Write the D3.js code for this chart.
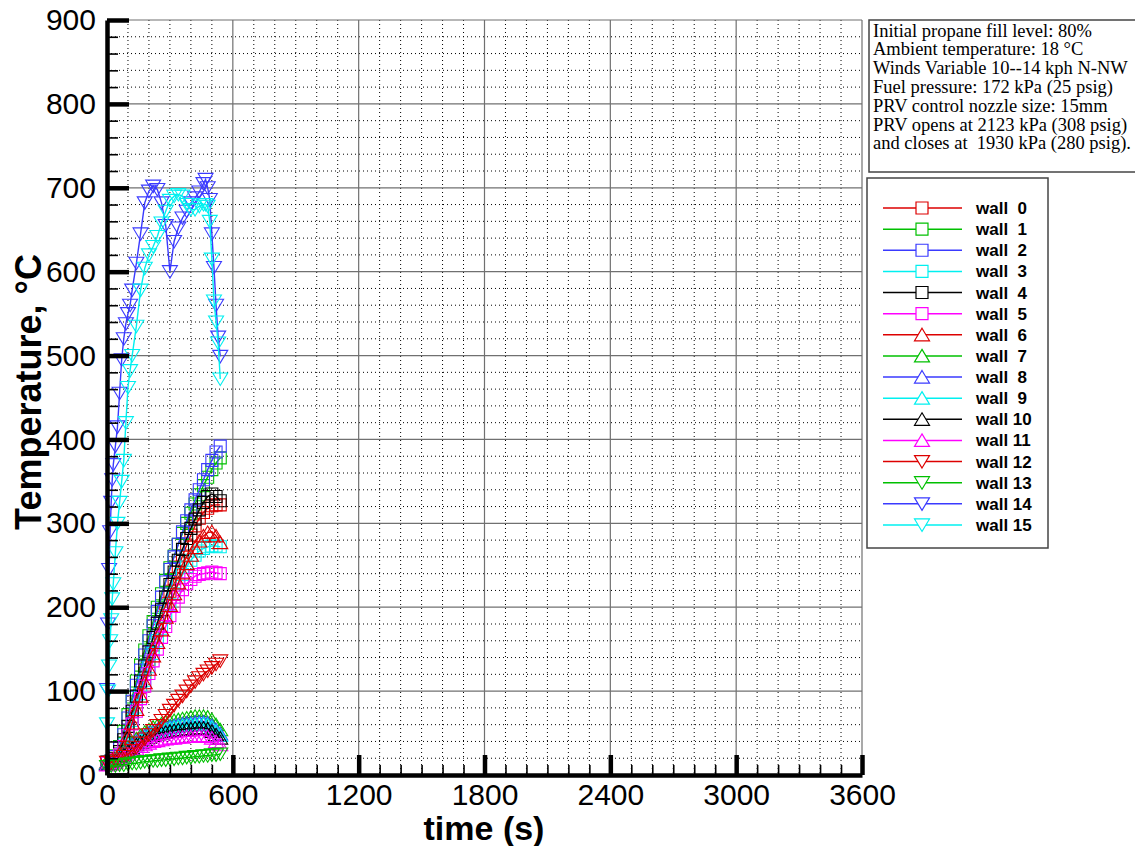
<!DOCTYPE html>
<html><head><meta charset="utf-8">
<script src="https://cdn.jsdelivr.net/npm/d3@7"></script>
<style>body{margin:0;background:#fff}</style>
</head><body><svg id="c" width="1135" height="846"></svg>
<script>
// ---------- data ----------
const time = [0,20,40,60,80,100,120,140,160,180,200,220,240,260,280,300,320,340,360,380,400,420,440,460,480,500,520,540];
const wall0  = [15,16,19,26,38,53,70,87,104,121,138,155,172,188,204,219,234,248,261,274,286,297,306,313,318,321,322,322];
const wall1  = [15,17,23,34,52,72,93,112,131,149,166,183,200,216,232,247,261,275,288,300,312,323,334,345,355,364,372,378];
const wall2  = [15,17,22,32,48,68,88,107,125,143,160,178,195,212,230,245,260,275,290,303,316,328,340,352,364,375,385,392];
const wall3  = [15,16,19,25,36,50,65,81,97,113,129,145,160,175,189,203,216,228,239,248,256,262,267,270,272,273,273,272];
const wall4  = [15,16,20,28,42,58,76,94,112,130,147,164,181,197,212,227,242,256,269,282,294,305,316,325,332,335,332,327];
const wall5  = [14,15,18,24,34,47,61,76,91,106,121,136,150,164,177,190,201,212,221,228,233,237,239,240,241,242,241,240];
const wall6  = [15,16,18,24,34,47,62,78,94,110,126,142,158,173,188,202,216,229,241,252,262,271,279,285,289,290,285,277];
const wall7  = [14,16,19,23,28,33,38,43,47,51,54,57,59,61,63,64,65,66,67,68,69,70,70,70,69,66,60,54];
const wall8  = [14,15,18,22,26,31,36,40,44,47,50,52,54,56,57,58,59,60,61,62,62,63,63,63,62,59,54,49];
const wall9  = [14,15,18,21,25,29,34,38,42,45,48,50,52,54,55,56,57,58,59,59,60,60,61,61,60,57,52,47];
const wall10 = [13,14,17,20,24,28,32,36,39,42,45,47,49,50,51,52,53,54,54,55,55,56,56,56,55,52,48,44];
const wall11 = [12,13,15,18,21,25,28,31,34,36,38,40,41,42,43,44,44,45,45,46,46,46,47,47,46,44,40,36];
const wall12 = [15,15,17,19,22,25,29,33,38,43,48,53,59,65,71,77,83,89,94,100,106,111,116,120,124,128,132,136];
const wall13 = [10,11,11,12,12,13,14,14,15,16,16,17,17,18,18,19,19,20,20,21,21,22,22,23,23,24,24,25];
const timeFast = [0,5,10,15,20,25,30,40,50,60,70,80,90,100,110,120,140,160,180,200,220,240,260,280,300,320,340,360,380,400,420,440,460,470,480,490,500,510,520,530,540];
const wall14 = [102,180,245,290,325,352,370,392,415,455,495,520,538,550,560,578,610,645,682,696,702,698,682,655,600,636,652,664,672,682,688,695,705,710,700,686,645,605,560,522,499];
const wall15 = [61,100,130,160,185,210,228,265,300,325,350,375,420,462,482,500,535,578,604,620,630,642,658,672,685,690,692,690,680,674,674,678,680,680,678,660,615,565,540,515,472];

const seriesNames  = ["wall  0","wall  1","wall  2","wall  3","wall  4","wall  5","wall  6","wall  7","wall  8","wall  9","wall 10","wall 11","wall 12","wall 13","wall 14","wall 15"];
const seriesValues = [wall0,wall1,wall2,wall3,wall4,wall5,wall6,wall7,wall8,wall9,wall10,wall11,wall12,wall13,wall14,wall15];
const seriesTimes  = [time,time,time,time,time,time,time,time,time,time,time,time,time,time,timeFast,timeFast];
const seriesColors = ["#dd0000","#00c000","#3a3aff","#00f0f0","#000000","#ff00ff","#dd0000","#00c000","#3a3aff","#00f0f0","#000000","#ff00ff","#dd0000","#00c000","#3a3aff","#00f0f0"];
const seriesShapes = ["square","square","square","square","square","square","up","up","up","up","up","up","down","down","down","down"];

const xTicks = [0,600,1200,1800,2400,3000,3600];
const yTicks = [0,100,200,300,400,500,600,700,800,900];
const xMinorTicks = [100,200,300,400,500,700,800,900,1000,1100,1300,1400,1500,1600,1700,1900,2000,2100,2200,2300,2500,2600,2700,2800,2900,3100,3200,3300,3400,3500];
const yMinorTicks = [20,40,60,80,120,140,160,180,220,240,260,280,320,340,360,380,420,440,460,480,520,540,560,580,620,640,660,680,720,740,760,780,820,840,860,880];
const xTitle = "time (s)";
const yTitle = "Temperature, °C";
const infoLines = ["Initial propane fill level: 80%","Ambient temperature: 18 °C","Winds Variable 10--14 kph N-NW","Fuel pressure: 172 kPa (25 psig)","PRV control nozzle size: 15mm","PRV opens at 2123 kPa (308 psig)","and closes at  1930 kPa (280 psig)."];

// ---------- drawing ----------
const svg = d3.select("#c");
const L = 107, R = 862, T = 20, B = 775;
const x = d3.scaleLinear().domain([0,3600]).range([L,R]);
const y = d3.scaleLinear().domain([0,900]).range([B,T]);
const shapePath = {
  square: "M-6,-6h12v12h-12Z",
  up: "M0,-6.5L7.5,6L-7.5,6Z",
  down: "M0,6.5L7.5,-6L-7.5,-6Z"
};

// minor dotted grid
const g = svg.append("g");
g.selectAll(".mvx").data(xMinorTicks).join("line")
  .attr("x1",d=>x(d)).attr("x2",d=>x(d)).attr("y1",T).attr("y2",B)
  .attr("stroke","#000").attr("stroke-width",1).attr("stroke-dasharray","1,3");
g.selectAll(".mhy").data(yMinorTicks).join("line")
  .attr("y1",d=>y(d)).attr("y2",d=>y(d)).attr("x1",L).attr("x2",R)
  .attr("stroke","#000").attr("stroke-width",1).attr("stroke-dasharray","1,3");
// major grid
g.selectAll(".Mx").data(xTicks.slice(1)).join("line")
  .attr("x1",d=>x(d)).attr("x2",d=>x(d)).attr("y1",T).attr("y2",B)
  .attr("stroke","#707070").attr("stroke-width",1.2);
g.selectAll(".My").data(yTicks.slice(1)).join("line")
  .attr("y1",d=>y(d)).attr("y2",d=>y(d)).attr("x1",L).attr("x2",R)
  .attr("stroke","#707070").attr("stroke-width",1.2);

// series
const line = d3.line();
seriesValues.forEach((vals,i)=>{
  const ts = seriesTimes[i];
  const pts = vals.map((v,j)=>[x(ts[j]), y(v)]);
  const sg = svg.append("g");
  sg.append("path").attr("d", line(pts)).attr("fill","none")
    .attr("stroke", seriesColors[i]).attr("stroke-width",1.4);
  sg.selectAll("path.m").data(pts).join("path").attr("class","m")
    .attr("transform", d=>`translate(${d[0]},${d[1]})`)
    .attr("d", shapePath[seriesShapes[i]])
    .attr("fill","none").attr("stroke", seriesColors[i]).attr("stroke-width",1.1);
});

// axes
const fontTick = "'Liberation Sans', Arial, sans-serif";
const yAx = svg.append("g").attr("transform",`translate(${L},0)`)
  .call(d3.axisLeft(y).tickValues(yTicks).tickFormat(d3.format("d")).tickSizeInner(-22).tickSizeOuter(0).tickPadding(11));
const yAxMinor = svg.append("g").attr("transform",`translate(${L},0)`)
  .call(d3.axisLeft(y).tickValues(yMinorTicks).tickSizeInner(-11).tickSizeOuter(0).tickFormat(""));
const xAx = svg.append("g").attr("transform",`translate(0,${B})`)
  .call(d3.axisBottom(x).tickValues(xTicks).tickFormat(d3.format("d")).tickSizeInner(-20).tickSizeOuter(0).tickPadding(9));
const xAxMinor = svg.append("g").attr("transform",`translate(0,${B})`)
  .call(d3.axisBottom(x).tickValues(xMinorTicks).tickSizeInner(-10).tickSizeOuter(0).tickFormat(""));
[yAx,xAx].forEach(a=>{
  a.select(".domain").attr("stroke","#000").attr("stroke-width",4.5);
  a.selectAll(".tick line").attr("stroke","#000").attr("stroke-width",4.5);
  a.selectAll(".tick text").attr("fill","#000").attr("font-size",30).attr("font-family",fontTick);
});
[yAxMinor,xAxMinor].forEach(a=>{
  a.select(".domain").remove();
  a.selectAll(".tick line").attr("stroke","#000").attr("stroke-width",1.6);
});

// titles
svg.append("text").attr("x",484).attr("y",840).attr("text-anchor","middle")
  .attr("font-family",fontTick).attr("font-weight","bold").attr("font-size",34).text(xTitle);
svg.append("text").attr("transform","translate(41,392) rotate(-90)").attr("text-anchor","middle")
  .attr("font-family",fontTick).attr("font-weight","bold").attr("font-size",36).text(yTitle);

// info box
svg.append("rect").attr("x",869).attr("y",20).attr("width",290).attr("height",152)
  .attr("fill","#fff").attr("stroke","#444").attr("stroke-width",1.5);
svg.append("g").selectAll("text").data(infoLines).join("text")
  .attr("x",873).attr("y",(d,i)=>36.5+i*18.8)
  .attr("font-family","'Liberation Serif','Times New Roman',serif").attr("font-size",18.5)
  .attr("fill","#000").style("white-space","pre").text(d=>d);

// legend
svg.append("rect").attr("x",867).attr("y",178).attr("width",181).attr("height",370)
  .attr("fill","#fff").attr("stroke","#444").attr("stroke-width",1.5);
const lg = svg.append("g").selectAll("g").data(seriesNames).join("g")
  .attr("transform",(d,i)=>`translate(0,${208+i*21.13})`);
lg.append("line").attr("x1",883).attr("x2",962).attr("y1",0).attr("y2",0)
  .attr("stroke",(d,i)=>seriesColors[i]).attr("stroke-width",1.5);
lg.append("path").attr("transform","translate(922,0)").attr("d",(d,i)=>shapePath[seriesShapes[i]])
  .attr("fill","#fff").attr("stroke",(d,i)=>seriesColors[i]).attr("stroke-width",1.2);
lg.append("text").attr("x",976).attr("y",6).attr("font-family",fontTick).attr("font-weight","bold")
  .attr("font-size",17).style("white-space","pre").text(d=>d);
</script></body></html>
